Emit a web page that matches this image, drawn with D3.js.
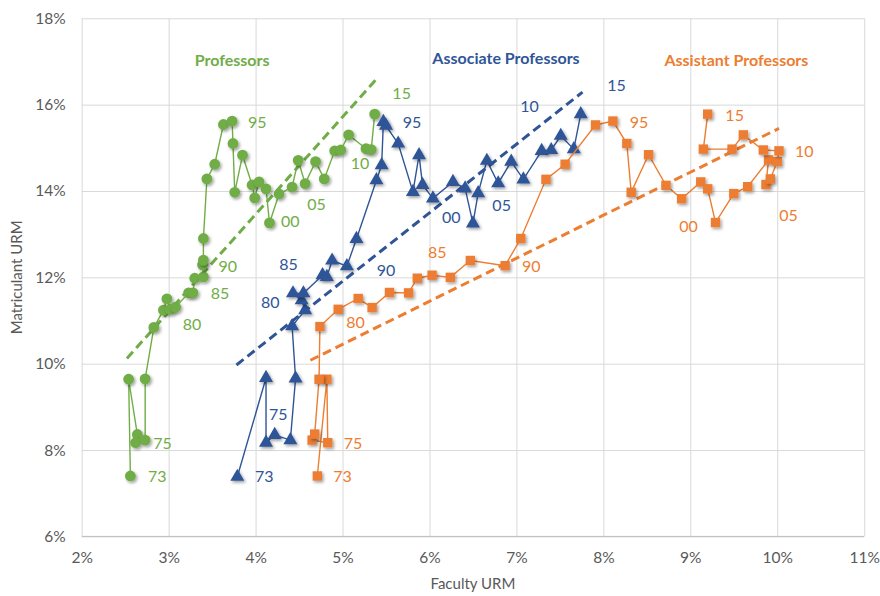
<!DOCTYPE html>
<html><head><meta charset="utf-8">
<script src="https://cdn.jsdelivr.net/npm/d3@7"></script>
<style>
html,body{margin:0;padding:0;background:#fff;}
svg text{font-family:Lato,"Open Sans",sans-serif;}
</style></head>
<body>
<svg id="chart" width="880" height="596"></svg>
<script>
// ---------- data (percent values) ----------
const xTicks = [2,3,4,5,6,7,8,9,10,11];
const yTicks = [6,8,10,12,14,16,18];

const professorsX = [2.56,2.54,2.64,2.62,2.73,2.73,2.83,2.94,2.98,3.02,3.08,3.23,3.28,3.30,3.40,3.39,3.40,3.40,3.44,3.53,3.63,3.73,3.74,3.76,3.85,3.96,3.99,4.04,4.12,4.16,4.27,4.42,4.49,4.57,4.69,4.79,4.91,4.98,5.07,5.27,5.33,5.37];
const professorsY = [7.40,9.64,8.36,8.17,8.23,9.65,10.84,11.24,11.50,11.26,11.31,11.64,11.64,11.98,12.01,12.29,12.40,12.90,14.28,14.62,15.54,15.62,15.10,13.97,14.83,14.14,13.84,14.21,14.05,13.26,13.93,14.09,14.71,14.17,14.68,14.28,14.93,14.95,15.30,14.98,14.96,15.78];

const associateX = [3.79,4.12,4.12,4.22,4.40,4.46,4.42,4.57,4.53,4.43,4.55,4.77,4.82,4.88,5.05,5.16,5.39,5.45,5.47,5.50,5.64,5.81,5.88,5.92,6.04,6.27,6.41,6.50,6.56,6.66,6.79,6.94,7.08,7.29,7.40,7.51,7.66,7.74];
const associateY = [7.38,9.67,8.17,8.35,8.23,9.66,10.87,11.24,11.47,11.63,11.63,12.05,12.01,12.39,12.26,12.89,14.25,14.60,15.60,15.51,15.10,13.98,14.83,14.14,13.83,14.21,14.06,13.25,13.95,14.70,14.18,14.68,14.27,14.93,14.95,15.28,14.97,15.78];

const assistantX = [4.71,4.82,4.83,4.65,4.68,4.73,4.74,4.95,5.18,5.34,5.54,5.76,5.86,6.03,6.24,6.47,6.87,7.05,7.34,7.56,7.91,8.11,8.27,8.32,8.52,8.72,8.90,9.12,9.20,9.29,9.50,9.66,9.90,9.87,9.92,10.00,10.02,9.84,9.61,9.48,9.15,9.20];
const assistantY = [7.40,9.64,8.17,8.23,8.37,9.64,10.86,11.26,11.51,11.30,11.65,11.64,11.98,12.05,12.00,12.39,12.27,12.90,14.27,14.62,15.53,15.62,15.10,13.97,14.84,14.13,13.82,14.21,14.05,13.27,13.94,14.10,14.72,14.15,14.28,14.68,14.93,14.95,15.30,14.97,14.97,15.78];

// trend lines: [x0, x1], [y0, y1]
const professorsTrendX = [2.52,5.38], professorsTrendY = [10.12,16.57];
const associateTrendX = [3.78,7.76],  associateTrendY = [9.97,16.29];
const assistantTrendX = [4.63,10.02], assistantTrendY = [10.08,15.45];

// year labels: text, x, y (data units)
const professorsLabels = [["73",2.87,7.40],["75",2.93,8.16],["80",3.27,10.92],["85",3.59,11.63],["90",3.68,12.25],["95",4.02,15.59],["00",4.40,13.29],["05",4.70,13.68],["10",5.20,14.65],["15",5.68,16.26]];
const associateLabels = [["73",4.10,7.40],["75",4.26,8.83],["80",4.17,11.42],["85",4.38,12.31],["90",5.50,12.15],["95",5.80,15.60],["00",6.25,13.40],["05",6.83,13.66],["10",7.15,15.97],["15",8.15,16.44]];
const assistantLabels = [["73",5.00,7.40],["75",5.12,8.16],["80",5.15,10.95],["85",6.09,12.57],["90",7.17,12.25],["95",8.41,15.60],["00",8.98,13.17],["05",10.13,13.44],["10",10.31,14.91],["15",9.51,15.76]];

const seriesNames = ["Professors","Associate Professors","Assistant Professors"];
const seriesTitleX = [3.73,6.88,9.53];
const seriesTitleY = [17.03,17.06,17.03];

// ---------- layout ----------
const svg = d3.select("#chart");
const x = d3.scaleLinear().domain([2,11]).range([81.7,864.2]);
const y = d3.scaleLinear().domain([6,18]).range([536.4,18.3]);
const colors = ["#70AD47","#2F5597","#ED7D31"];

const defs = svg.append("defs");
const f = defs.append("filter").attr("id","sh").attr("x","-50%").attr("y","-50%").attr("width","200%").attr("height","200%");
f.append("feDropShadow").attr("dx",1.5).attr("dy",1.8).attr("stdDeviation",1.7).attr("flood-color","#000").attr("flood-opacity",0.38);

// grid
const gx = svg.append("g").attr("transform",`translate(0,${y(6)})`)
  .call(d3.axisBottom(x).tickValues(xTicks).tickSize(-(y(6)-y(18))).tickFormat(""));
gx.select(".domain").remove();
gx.selectAll("line").attr("stroke","#D9D9D9").attr("stroke-width",1);
const gy = svg.append("g").attr("transform",`translate(${x(2)},0)`)
  .call(d3.axisLeft(y).tickValues(yTicks).tickSize(-(x(11)-x(2))).tickFormat(""));
gy.select(".domain").remove();
gy.selectAll("line").attr("stroke","#D9D9D9").attr("stroke-width",1);
svg.append("line").attr("x1",x(2)).attr("x2",x(11)).attr("y1",y(6)).attr("y2",y(6)).attr("stroke","#BFBFBF").attr("stroke-width",1);

// tick labels
const ax = svg.append("g").attr("transform",`translate(0,${y(6)})`)
  .call(d3.axisBottom(x).tickValues(xTicks).tickSize(0).tickPadding(16).tickFormat(d=>d+"%"));
ax.select(".domain").remove();
ax.selectAll("text").attr("fill","#595959").style("font-size","15.5px").style("font-family","Lato");
const ay = svg.append("g").attr("transform",`translate(${x(2)},0)`)
  .call(d3.axisLeft(y).tickValues(yTicks).tickSize(0).tickPadding(16).tickFormat(d=>d+"%"));
ay.select(".domain").remove();
ay.selectAll("text").attr("fill","#595959").style("font-size","15.5px").style("font-family","Lato");

// axis titles
svg.append("text").attr("x",(x(2)+x(11))/2).attr("y",589).attr("text-anchor","middle")
  .attr("fill","#595959").style("font-size","15px").text("Faculty URM");
svg.append("text").attr("transform",`translate(22,${(y(6)+y(18))/2}) rotate(-90)`).attr("text-anchor","middle")
  .attr("fill","#595959").style("font-size","15px").text("Matriculant URM");

// series
const allX = [professorsX, associateX, assistantX];
const allY = [professorsY, associateY, assistantY];
const trendsX = [professorsTrendX, associateTrendX, assistantTrendX];
const trendsY = [professorsTrendY, associateTrendY, assistantTrendY];
const allLabels = [professorsLabels, associateLabels, assistantLabels];
const line = d3.line().x(d=>x(d[0])).y(d=>y(d[1]));

// trend lines first
trendsX.forEach((tx,i)=>{
  const pts = tx.map((v,j)=>[v,trendsY[i][j]]);
  svg.append("path").attr("d",line(pts)).attr("fill","none").attr("stroke",colors[i])
    .attr("stroke-width",3).attr("stroke-dasharray","9,5");
});

const sym = [d3.symbolCircle, d3.symbolTriangle, d3.symbolSquare];
const symSize = [92, 85, 88];
allX.forEach((xs,i)=>{
  const pts = xs.map((v,j)=>[v,allY[i][j]]);
  const g = svg.append("g");
  g.append("path").attr("d",line(pts)).attr("fill","none").attr("stroke",colors[i]).attr("stroke-width",1.4);
  g.selectAll(".m").data(pts).join("path")
    .attr("transform",d=>`translate(${x(d[0])},${y(d[1])})`)
    .attr("d",d3.symbol().type(sym[i]).size(symSize[i]))
    .attr("fill",colors[i]).attr("filter","url(#sh)");
});

// year labels
allLabels.forEach((labs,i)=>{
  svg.append("g").selectAll("text").data(labs).join("text")
    .attr("x",d=>x(d[1])).attr("y",d=>y(d[2])).attr("dy","0.35em").attr("text-anchor","middle")
    .attr("fill",colors[i]).style("font-size","16px").text(d=>d[0]);
});

// series titles
seriesNames.forEach((n,i)=>{
  svg.append("text").attr("x",x(seriesTitleX[i])).attr("y",y(seriesTitleY[i])).attr("dy","0.35em")
    .attr("text-anchor","middle").attr("fill",colors[i]).style("font-size","16px").style("font-weight","bold").text(n);
});
</script>
</body></html>
